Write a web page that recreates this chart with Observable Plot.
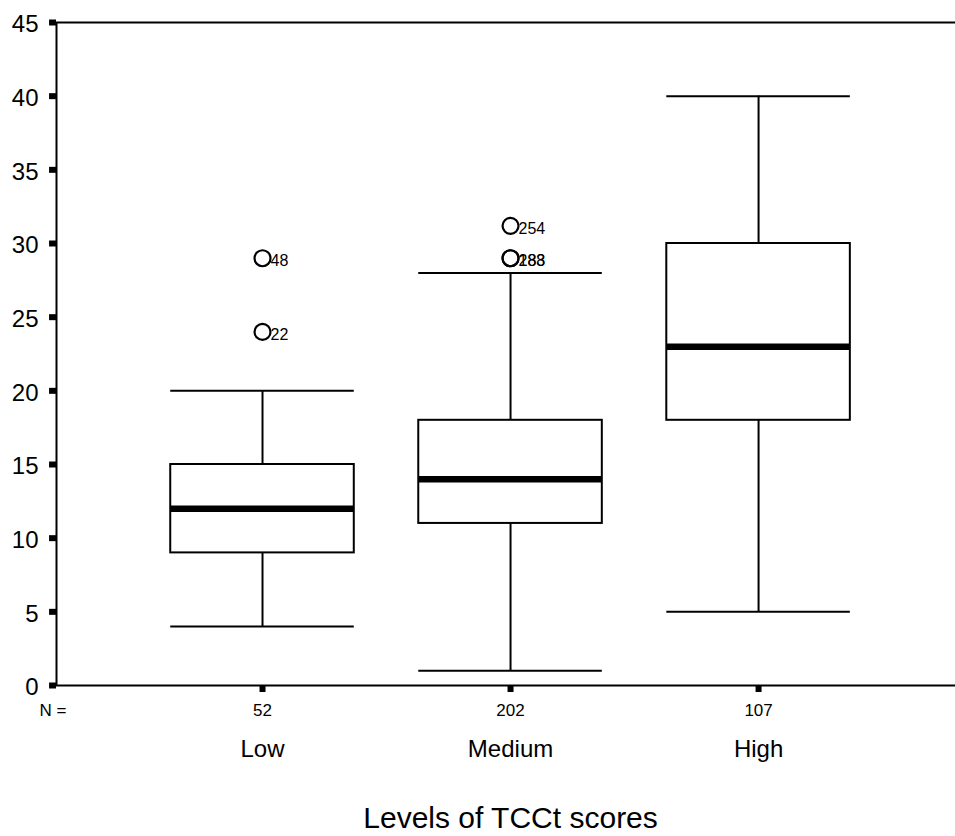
<!DOCTYPE html>
<html><head><meta charset="utf-8">
<script src="https://cdn.jsdelivr.net/npm/d3@7"></script>
<script src="https://cdn.jsdelivr.net/npm/@observablehq/plot@0.6"></script>
<style>body{margin:0;background:#fff}svg{display:block}</style>
</head><body><div id="chart"></div>
<script>
const categories = ["Low", "Medium", "High"];
const counts = [52, 202, 107];
const whiskerLow = [4, 1, 5];
const q1 = [9, 11, 18];
const median = [12, 14, 23];
const q3 = [15, 18, 30];
const whiskerHigh = [20, 28, 40];
const outlierCategory = ["Low", "Low", "Medium", "Medium", "Medium"];
const outlierValue = [29, 24, 31.2, 29, 29];
const outlierLabel = ["48", "22", "254", "288", "183"];
const yTicks = [0, 5, 10, 15, 20, 25, 30, 35, 40, 45];
const title = "Levels of TCCt scores";

const boxes = categories.map((c, i) => ({
  cat: c, pos: i + 1, n: counts[i], lo: whiskerLow[i], q1: q1[i], med: median[i], q3: q3[i], hi: whiskerHigh[i]
}));
const outliers = outlierCategory.map((c, i) => ({pos: categories.indexOf(c) + 1, v: outlierValue[i], label: outlierLabel[i]}));
const hw = 0.37;
const x0 = 0.1694;
const font = "Liberation Sans, Arial, sans-serif";

const chart = Plot.plot({
  width: 955, height: 836,
  marginLeft: 56, marginRight: 0, marginTop: 22, marginBottom: 151,
  style: {fontFamily: font, background: "#fff", overflow: "visible"},
  x: {type: "linear", domain: [x0, 3.794], axis: null},
  y: {domain: [0, 45], axis: null},
  marks: [
    // frame lines
    Plot.ruleY([0, 45], {x1: x0, x2: 3.794, stroke: "#000", strokeWidth: 2}),
    Plot.ruleX([x0], {y1: 0, y2: 45, stroke: "#000", strokeWidth: 2}),
    // y ticks
    Plot.ruleY(yTicks, {y: d => d, x1: x0 - 0.028, x2: x0, stroke: "#000", strokeWidth: 6}),
    Plot.text(yTicks, {y: d => d, x: x0, dx: -18, dy: 2, text: d => String(d), textAnchor: "end", fontSize: 24, fill: "#000"}),
    // x ticks
    Plot.ruleX(boxes, {x: "pos", y1: 0, y2: 0, stroke: "#000", strokeWidth: 6, insetTop: 1, insetBottom: -7}),
    // whiskers
    Plot.ruleX(boxes, {x: "pos", y1: "lo", y2: "q1", stroke: "#000", strokeWidth: 2}),
    Plot.ruleX(boxes, {x: "pos", y1: "q3", y2: "hi", stroke: "#000", strokeWidth: 2}),
    Plot.ruleY(boxes, {y: "lo", x1: d => d.pos - hw, x2: d => d.pos + hw, stroke: "#000", strokeWidth: 2}),
    Plot.ruleY(boxes, {y: "hi", x1: d => d.pos - hw, x2: d => d.pos + hw, stroke: "#000", strokeWidth: 2}),
    // boxes
    Plot.rect(boxes, {x1: d => d.pos - hw, x2: d => d.pos + hw, y1: "q1", y2: "q3", fill: "#fff", stroke: "#000", strokeWidth: 2}),
    Plot.ruleY(boxes, {y: "med", x1: d => d.pos - hw, x2: d => d.pos + hw, stroke: "#000", strokeWidth: 6.5}),
    // outliers
    Plot.dot(outliers, {x: "pos", y: "v", r: 8, stroke: "#000", strokeWidth: 2.2, fill: "none"}),
    Plot.text(outliers, {x: "pos", y: "v", text: "label", dx: 8, dy: 3, textAnchor: "start", fontSize: 16, fill: "#000"}),
    // N row
    Plot.text(["N ="], {x: x0, frameAnchor: "bottom", lineAnchor: "middle", dy: 25, dx: -3.5, text: d => d, fontSize: 17, fill: "#000", textAnchor: "middle"}),
    Plot.text(boxes, {x: "pos", frameAnchor: "bottom", lineAnchor: "middle", dy: 25, text: d => String(d.n), fontSize: 17, fill: "#000"}),
    Plot.text(boxes, {x: "pos", frameAnchor: "bottom", lineAnchor: "middle", dy: 64, text: "cat", fontSize: 24, fill: "#000"}),
    Plot.text([title], {x: 2, frameAnchor: "bottom", lineAnchor: "middle", dy: 133, text: d => d, fontSize: 30, fill: "#000"})
  ]
});
document.getElementById("chart").append(chart);
</script>
</body></html>
